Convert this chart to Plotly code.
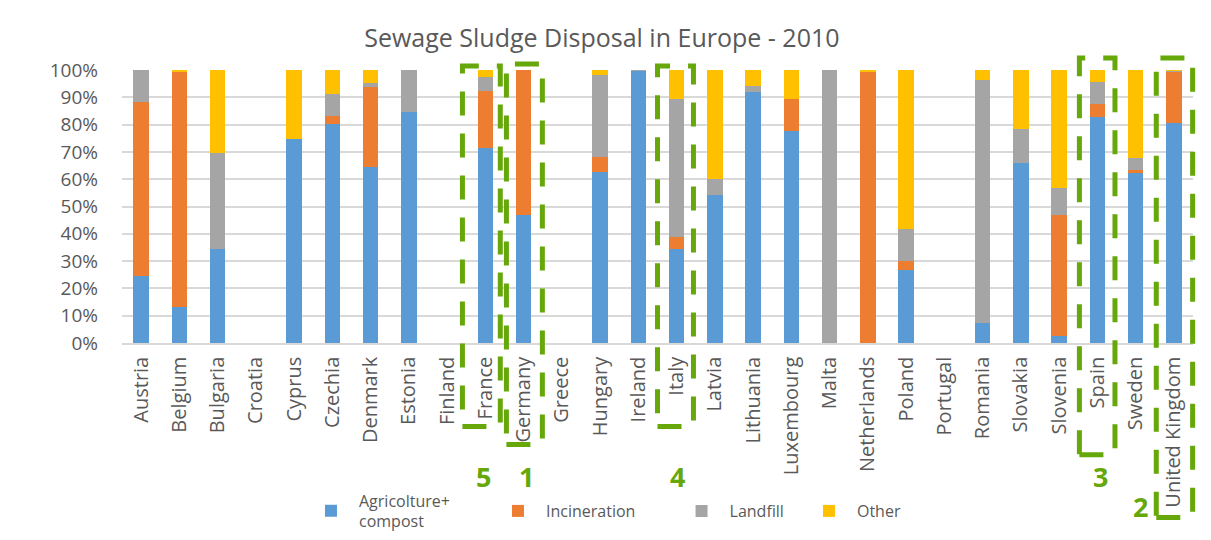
import plotly.graph_objects as go

countries = ["Austria", "Belgium", "Bulgaria", "Croatia", "Cyprus", "Czechia", "Denmark",
             "Estonia", "Finland", "France", "Germany", "Greece", "Hungary", "Ireland",
             "Italy", "Latvia", "Lithuania", "Luxembourg", "Malta", "Netherlands", "Poland",
             "Portugal", "Romania", "Slovakia", "Slovenia", "Spain", "Sweden", "United Kingdom"]

agriculture = [24.5, 13.3, 34.3, 0, 74.8, 80.2, 64.5, 84.5, 0, 71.5, 47.0, 0, 62.8, 99.8,
               34.5, 54.1, 92.1, 77.7, 0, 0, 26.7, 0, 7.2, 66.0, 2.4, 82.7, 62.1, 80.5]
incineration = [63.9, 86.1, 0, 0, 0, 2.8, 29.3, 0, 0, 20.8, 53.0, 0, 5.4, 0,
                 4.2, 0, 0, 11.7, 0, 99.4, 3.5, 0, 0, 0, 44.6, 5.0, 1.4, 18.9]
landfill = [11.6, 0, 35.3, 0, 0, 8.3, 1.4, 15.5, 0, 5.1, 0, 0, 30.0, 0.2,
            50.7, 6.1, 2.2, 0, 100.0, 0, 11.4, 0, 89.3, 12.3, 9.7, 8.0, 4.1, 0.4]
other = [0, 0.6, 30.4, 0, 25.2, 8.7, 4.8, 0, 0, 2.6, 0, 0, 1.8, 0,
         10.6, 39.8, 5.7, 10.6, 0, 0.6, 58.4, 0, 3.5, 21.7, 43.3, 4.3, 32.4, 0.2]

series_names = ["Agricolture+<br>compost", "Incineration", "Landfill", "Other"]
series_colors = ["#5B9BD5", "#ED7D31", "#A5A5A5", "#FFC000"]

# highlighted countries: (country, rank label)
highlights = [("France", "5"), ("Germany", "1"), ("Italy", "4"), ("Spain", "3"), ("United Kingdom", "2")]

title_text = "Sewage Sludge Disposal in Europe - 2010"

GREY = "#595959"
GREEN = "#66A80A"
FONT = "Open Sans"

fig = go.Figure()
legend_ids = ["legend", "legend2", "legend3", "legend4"]
for vals, name, col, lg in zip([agriculture, incineration, landfill, other],
                               series_names, series_colors, legend_ids):
    fig.add_trace(go.Bar(
        x=countries, y=[v / 100 for v in vals], name=name,
        marker=dict(color=col, line=dict(width=0)),
        legend=lg, showlegend=True,
    ))

n = len(countries)

def cx(country, off):
    i = countries.index(country)
    return (i + 0.5 + off) / n

# box geometry (category offsets and paper y extents)
box_geom = {
    "France": (-0.60, 0.39, 1.015, -0.306),
    "Germany": (-0.45, 0.49, 1.022, -0.372),
    "Italy": (-0.50, 0.44, 1.015, -0.306),
    "Spain": (-0.47, 0.46, 1.044, -0.409),
    "United Kingdom": (-0.46, 0.49, 1.044, -0.639),
}
label_geom = {
    "France": (-0.05, -0.49),
    "Germany": (0.07, -0.49),
    "Italy": (0.02, -0.49),
    "Spain": (0.08, -0.49),
    "United Kingdom": (-0.88, -0.60),
}

shapes = []
annotations = []
for c, lab in highlights:
    x0o, x1o, y1, y0 = box_geom[c]
    shapes.append(dict(type="rect", xref="paper", yref="paper",
                       x0=cx(c, x0o), x1=cx(c, x1o), y0=y0, y1=y1,
                       line=dict(color=GREEN, width=5, dash="24px,18px"),
                       fillcolor="rgba(0,0,0,0)", layer="above"))
    lx, ly = label_geom[c]
    annotations.append(dict(xref="paper", yref="paper", x=cx(c, lx), y=ly,
                            text="<b>%s</b>" % lab, showarrow=False,
                            font=dict(family=FONT, size=27, color=GREEN),
                            xanchor="center", yanchor="middle"))

legend_x = [0.2502, 0.4046, 0.5562, 0.6614]
legend_cfg = {}
for lg, lx in zip(legend_ids, legend_x):
    legend_cfg[lg] = dict(orientation="h", x=lx, xanchor="left", xref="container",
                          y=0.0537, yanchor="middle", yref="container",
                          font=dict(family=FONT, size=16, color=GREY), itemwidth=46,
                          bgcolor="rgba(0,0,0,0)", itemclick=False, itemdoubleclick=False)

fig.update_layout(
    width=1211, height=540, showlegend=True,
    barmode="stack", bargap=0.6,
    plot_bgcolor="white", paper_bgcolor="white",
    margin=dict(l=122, r=18, t=70, b=197, autoexpand=False),
    title=dict(text=title_text, x=0.497, xanchor="center", y=1 - 38 / 540, yanchor="middle",
               yref="container", font=dict(family=FONT, size=25, color=GREY)),
    font=dict(family=FONT, color=GREY),
    shapes=shapes, annotations=annotations,
    **legend_cfg,
)
fig.update_yaxes(range=[0, 1], tickvals=[i / 10 for i in range(11)], tickformat=".0%",
                 showgrid=True, gridcolor="#D9D9D9", gridwidth=1.5,
                 zeroline=False, showline=False, ticks="",
                 tickfont=dict(family=FONT, size=19, color=GREY), ticklabelstandoff=23)
fig.update_xaxes(type="category", tickangle=-90, showgrid=False, ticks="",
                 showline=True, linecolor="#D9D9D9", linewidth=1.5,
                 tickfont=dict(family=FONT, size=20, color=GREY), ticklabelstandoff=4)

fig.write_html("out.html", config={"displayModeBar": False},
               post_script="document.body.style.margin='0';")
